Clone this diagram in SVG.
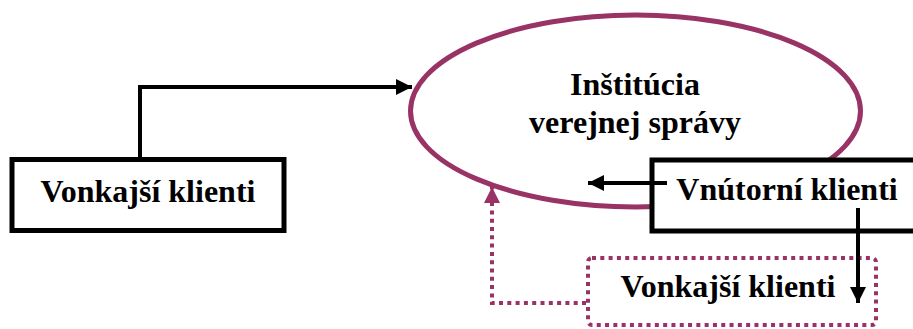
<svg xmlns="http://www.w3.org/2000/svg" width="913" height="329" viewBox="0 0 913 329">
  <style>
    .lbl { font-family: "Liberation Serif", "Times New Roman", serif; font-weight: bold; font-size: 32px; fill: #000; text-anchor: middle; }
    .box { fill: #fff; stroke: #000; stroke-width: 5; }
    .dotbox { fill: none; stroke: #993366; stroke-width: 4; stroke-dasharray: 4 4.3; }
    .wire { fill: none; stroke: #000; stroke-width: 4; }
    .dotwire { fill: none; stroke: #993366; stroke-width: 4; stroke-dasharray: 4 4.3; }
  </style>
  <defs>
    <marker id="arrowBlack" viewBox="0 0 10 10" refX="10" refY="5" markerWidth="4.5" markerHeight="4" orient="auto" markerUnits="strokeWidth">
      <path d="M0,0 L10,5 L0,10 z" fill="#000"/>
    </marker>
    <marker id="arrowPink" viewBox="0 0 10 10" refX="10" refY="5" markerWidth="4" markerHeight="4" orient="auto" markerUnits="strokeWidth">
      <path d="M0,0 L10,5 L0,10 z" fill="#993366"/>
    </marker>
  </defs>

  <g id="institucia">
    <ellipse cx="635.5" cy="111" rx="225" ry="96" fill="#fff" stroke="#993366" stroke-width="5"/>
    <text class="lbl" x="635" y="95">Inštitúcia</text>
    <text class="lbl" x="635" y="133">verejnej správy</text>
  </g>

  <g id="vonkajsi-klienti">
    <rect class="box" x="12" y="159.5" width="272" height="71"/>
    <text class="lbl" x="148" y="202">Vonkajší klienti</text>
  </g>

  <g id="vnutorni-klienti">
    <rect class="box" x="652" y="160" width="280" height="71"/>
    <text class="lbl" x="787" y="200">Vnútorní klienti</text>
  </g>

  <g id="vonkajsi-klienti-2">
    <rect class="dotbox" x="588" y="258" width="288" height="67" rx="4"/>
    <text class="lbl" x="728" y="297">Vonkajší klienti</text>
  </g>

  <g id="connectors">
    <path class="wire" d="M140,157 V87 H412" marker-end="url(#arrowBlack)"/>
    <path class="wire" d="M667,183 H588" marker-end="url(#arrowBlack)"/>
    <path class="wire" d="M858,208 V303" marker-end="url(#arrowBlack)"/>
    <path class="dotwire" d="M586,303 H492 V187" marker-end="url(#arrowPink)"/>
  </g>
</svg>
